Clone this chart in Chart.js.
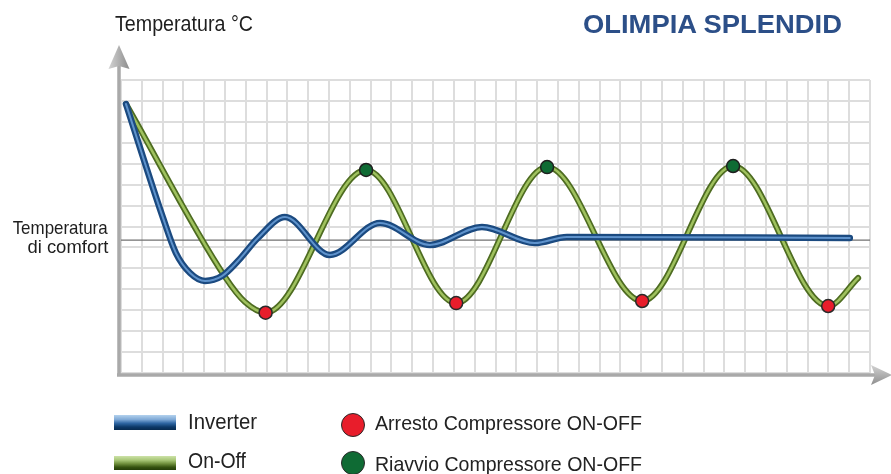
<!DOCTYPE html>
<html><head><meta charset="utf-8">
<script src="https://cdn.jsdelivr.net/npm/chart.js@4/dist/chart.umd.min.js"></script>
<style>
html,body{margin:0;padding:0;background:#fff;}
#wrap{position:relative;width:891px;height:474px;overflow:hidden;background:#fff;}
#c{position:absolute;left:0;top:0;}
.t{position:absolute;white-space:nowrap;font-family:"Liberation Sans",Arial,sans-serif;color:#222;}
.sw{position:absolute;}
.dot{position:absolute;border-radius:50%;box-sizing:border-box;border:1.5px solid #2a2a2a;}
</style></head><body>
<div id="wrap"><canvas id="c" width="891" height="474"></canvas></div>
<script>
// ---- data ----
const xTicks = [0,1,2,3,4,5,6,7,8,9,10,11,12,13,14,15,16,17,18,19,20,21,22,23,24,25,26,27,28,29,30,31,32,33,34,35,36];
const yTicks = [0,1,2,3,4,5,6,7,8,9,10,11,12,13,14];
const comfortLevel = 6.35;

const inverterX = [0.24, 2.02, 2.64, 3.32, 4.04, 4.85, 5.62, 6.58, 7.88, 10.04, 12.45, 14.85, 17.35, 19.89, 21.43, 35.03];
const inverterY = [12.85, 7.41, 5.73, 4.78, 4.40, 4.63, 5.35, 6.45, 7.45, 5.64, 7.17, 6.12, 6.98, 6.21, 6.50, 6.45];

const onOffX = [0.24, 5.00, 5.96, 6.95, 11.78, 16.11, 20.48, 25.05, 29.42, 33.99, 35.43];
const onOffY = [12.85, 4.59, 3.39, 2.88, 9.70, 3.34, 9.84, 3.44, 9.89, 3.20, 4.54];

const arrestoX = [6.95, 16.11, 25.05, 33.99];
const arrestoY = [2.88, 3.34, 3.44, 3.20];
const riavvioX = [11.78, 20.48, 29.42];
const riavvioY = [9.70, 9.84, 9.89];

const yAxisTitle = 'Temperatura °C';
const brandTitle = 'OLIMPIA SPLENDID';
const comfortLabel = ['Temperatura', 'di comfort'];
const legendLabels = ['Inverter', 'On-Off', 'Arresto Compressore ON-OFF', 'Riavvio Compressore ON-OFF'];

// ---- chart ----
const pts = (xs, ys) => xs.map((x, i) => ({x: x, y: ys[i]}));
const comfortLine = [{x: xTicks[0], y: comfortLevel}, {x: xTicks[xTicks.length - 1], y: comfortLevel}];

const axisArrows = {
  id: 'axisArrows',
  beforeDatasetsDraw(chart) {
    const {ctx, chartArea: a} = chart;
    ctx.save();
    const ax = a.left - 2, ay = a.bottom + 2;
    ctx.strokeStyle = '#a9a9a9';
    ctx.lineWidth = 3.5;
    ctx.beginPath();
    ctx.moveTo(ax, ay + 1);
    ctx.lineTo(ax, a.top - 14);
    ctx.moveTo(ax - 2, ay);
    ctx.lineTo(a.right + 6, ay);
    ctx.stroke();
    let g = ctx.createLinearGradient(ax - 10, 0, ax + 10, 0);
    g.addColorStop(0, '#d2d2d2'); g.addColorStop(0.5, '#b0b0b0'); g.addColorStop(1, '#8e8e8e');
    ctx.fillStyle = g;
    ctx.beginPath();
    ctx.moveTo(ax, a.top - 35);
    ctx.lineTo(ax + 10.5, a.top - 11);
    ctx.lineTo(ax, a.top - 14);
    ctx.lineTo(ax - 10.5, a.top - 11);
    ctx.closePath();
    ctx.fill();
    g = ctx.createLinearGradient(0, ay - 10, 0, ay + 10);
    g.addColorStop(0, '#d2d2d2'); g.addColorStop(0.5, '#b0b0b0'); g.addColorStop(1, '#8e8e8e');
    ctx.fillStyle = g;
    ctx.beginPath();
    ctx.moveTo(a.right + 22, ay);
    ctx.lineTo(a.right + 1, ay - 10);
    ctx.lineTo(a.right + 5, ay);
    ctx.lineTo(a.right + 1, ay + 10);
    ctx.closePath();
    ctx.fill();
    ctx.restore();
  }
};

const lineBase = {type: 'line', pointRadius: 0, pointHoverRadius: 0, fill: false,
  cubicInterpolationMode: 'monotone', borderCapStyle: 'round', borderJoinStyle: 'round'};

new Chart(document.getElementById('c'), {
  type: 'line',
  data: {
    datasets: [
      Object.assign({}, lineBase, {label: 'comfort', data: comfortLine, borderColor: '#707070', borderWidth: 1.3, cubicInterpolationMode: 'default', tension: 0, borderCapStyle: 'butt', order: 10}),
      Object.assign({}, lineBase, {label: legendLabels[1], data: pts(onOffX, onOffY), borderColor: '#4e6c21', borderWidth: 6, order: 6}),
      Object.assign({}, lineBase, {label: legendLabels[1] + ' hl', data: pts(onOffX, onOffY), borderColor: '#9fc15e', borderWidth: 2.6, order: 5}),
      Object.assign({}, lineBase, {label: legendLabels[0], data: pts(inverterX, inverterY), borderColor: '#1b4a80', borderWidth: 6.5, order: 4}),
      Object.assign({}, lineBase, {label: legendLabels[0] + ' hl', data: pts(inverterX, inverterY), borderColor: '#5f93cc', borderWidth: 2, order: 3}),
      {type: 'line', label: legendLabels[2], data: pts(arrestoX, arrestoY), showLine: false, pointRadius: 6.5, pointHoverRadius: 6.5,
        pointBackgroundColor: '#e81d2b', pointBorderColor: '#2a2a2a', pointBorderWidth: 1.5, order: 1},
      {type: 'line', label: legendLabels[3], data: pts(riavvioX, riavvioY), showLine: false, pointRadius: 6.5, pointHoverRadius: 6.5,
        pointBackgroundColor: '#0f6b34', pointBorderColor: '#1f1f1f', pointBorderWidth: 1.5, order: 0}
    ]
  },
  options: {
    responsive: false,
    animation: false,
    devicePixelRatio: 1,
    events: [],
    layout: {padding: {left: 121, top: 80, right: 21, bottom: 101}},
    plugins: {legend: {display: false}, tooltip: {enabled: false}, title: {display: false}},
    scales: {
      x: {type: 'linear', min: xTicks[0], max: xTicks[xTicks.length - 1],
        afterBuildTicks: s => { s.ticks = xTicks.map(v => ({value: v})); },
        afterFit: s => { s.height = 0; },
        ticks: {display: false}, border: {display: false},
        grid: {color: '#dddddd', lineWidth: 2, drawTicks: false}},
      y: {type: 'linear', min: yTicks[0], max: yTicks[yTicks.length - 1],
        afterBuildTicks: s => { s.ticks = yTicks.map(v => ({value: v})); },
        afterFit: s => { s.width = 0; },
        ticks: {display: false}, border: {display: false},
        grid: {color: '#dddddd', lineWidth: 2, drawTicks: false}}
    }
  },
  plugins: [axisArrows]
});

// ---- text overlay ----
const wrap = document.getElementById('wrap');
const mctx = document.createElement('canvas').getContext('2d');
function place(text, o) {
  const el = document.createElement('div');
  el.className = 't';
  el.textContent = text;
  const font = (o.bold ? 'bold ' : '') + o.size + 'px "Liberation Sans"';
  el.style.font = font;
  el.style.lineHeight = o.size + 'px';
  if (o.color) el.style.color = o.color;
  mctx.font = font;
  const w = mctx.measureText(text).width;
  const sx = o.width / w;
  el.style.top = (o.base - 0.8465 * o.size) + 'px';
  if (o.align === 'right') {
    el.style.left = (o.x - w) + 'px';
    el.style.transformOrigin = 'right center';
  } else {
    el.style.left = o.x + 'px';
    el.style.transformOrigin = 'left center';
  }
  el.style.transform = 'scaleX(' + sx.toFixed(4) + ')';
  wrap.appendChild(el);
}
function box(cls, x, y, w, h, bg) {
  const el = document.createElement('div');
  el.className = cls;
  el.style.left = x + 'px'; el.style.top = y + 'px';
  el.style.width = w + 'px'; el.style.height = h + 'px';
  el.style.background = bg;
  wrap.appendChild(el);
}
place(yAxisTitle, {x: 115, base: 32, size: 22, width: 138, color: '#1e1e1e'});
place(brandTitle, {x: 583, base: 33, size: 25, width: 260, bold: true, color: '#2c4f88'});
place(comfortLabel[0], {x: 108, base: 234, size: 19, width: 95, align: 'right', color: '#1e1e1e'});
place(comfortLabel[1], {x: 108, base: 253, size: 19, width: 81, align: 'right', color: '#1e1e1e'});

box('sw', 114, 415, 62, 15, 'linear-gradient(#b3d2ee 0%, #7fa9d6 30%, #2f66a3 55%, #0c3867 80%, #082a4f 100%)');
box('sw', 114, 456, 62, 14, 'linear-gradient(#cde2a8 0%, #a7c676 30%, #6f8f3c 55%, #34520f 80%, #243d08 100%)');
place(legendLabels[0], {x: 188, base: 430, size: 22, width: 69});
place(legendLabels[1], {x: 188, base: 469, size: 22, width: 58});
box('dot', 341, 413, 24, 24, '#e81d2b');
box('dot', 341, 451, 24, 24, '#0f6b34');
place(legendLabels[2], {x: 375, base: 430, size: 21, width: 267});
place(legendLabels[3], {x: 375, base: 471, size: 21, width: 267});
</script>
</body></html>
